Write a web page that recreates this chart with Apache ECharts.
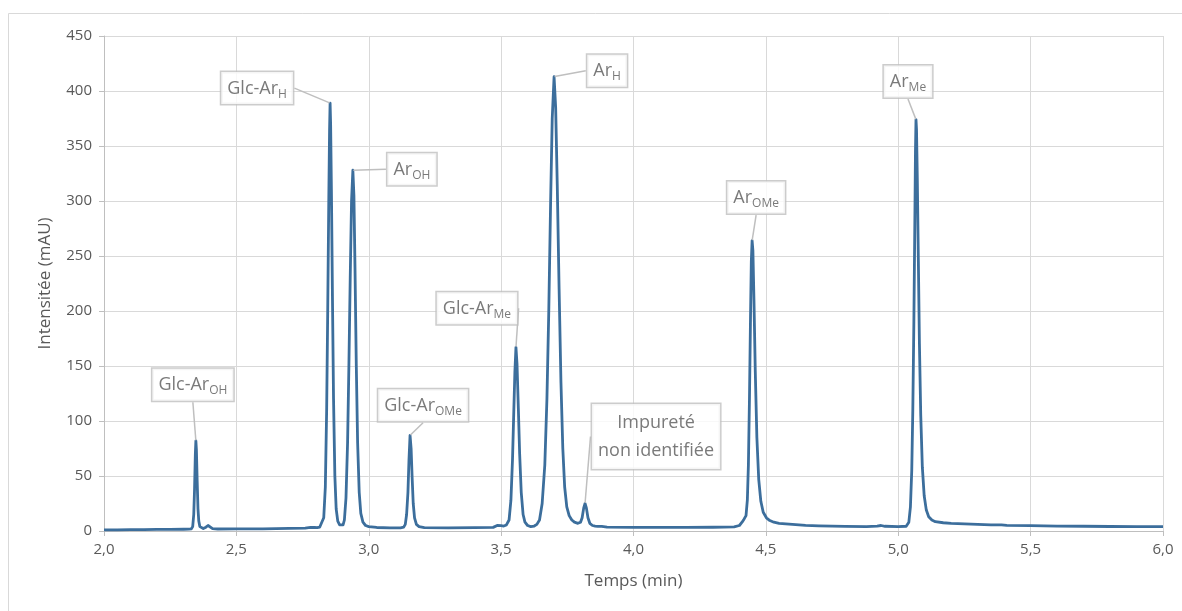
<!DOCTYPE html>
<html>
<head>
<meta charset="utf-8">
<script src="https://cdn.jsdelivr.net/npm/echarts@6/dist/echarts.min.js"></script>
<style>
html,body{margin:0;padding:0;background:#fff;}
#chart{width:1182px;height:611px;}
</style>
</head>
<body>
<div id="chart"></div>
<script>
// Chromatogram trace (time in min, intensity in mAU)
const times = [
 2.00,2.05,2.10,2.15,2.20,2.25,2.30,2.32,2.330,
 2.335,2.339,2.342,2.345,2.347,2.349,2.352,2.355,2.358,2.362,2.367,2.375,2.385,2.393,2.400,2.41,2.43,2.5,2.6,2.7,2.76,2.78,2.787,2.795,2.805,2.815,
 2.822,2.830,2.836,2.841,2.845,2.849,2.852,2.854,2.856,2.859,2.863,2.867,2.872,2.877,2.883,2.890,2.897,2.903,
 2.908,2.914,2.920,2.925,2.930,2.935,2.940,2.944,2.948,2.953,2.958,2.964,2.970,2.978,2.988,3.00,3.03,3.08,3.12,3.132,
 3.138,3.143,3.148,3.152,3.156,3.160,3.164,3.168,3.173,3.180,3.19,3.21,3.3,3.4,3.47,3.485,3.492,3.50,3.51,3.52,
 3.530,3.537,3.543,3.548,3.552,3.556,3.560,3.565,3.570,3.576,3.583,3.590,3.600,3.612,3.625,3.635,
 3.645,3.655,3.665,3.673,3.680,3.687,3.693,3.700,3.706,3.712,3.719,3.726,3.733,3.740,3.748,3.757,3.767,3.777,3.790,3.800,
 3.806,3.812,3.817,3.822,3.828,3.835,3.845,3.855,3.865,3.872,3.880,3.9,4.0,4.1,4.2,4.3,4.38,4.40,4.41,4.418,4.425,
 4.430,4.434,4.438,4.442,4.445,4.448,4.451,4.455,4.460,4.466,4.473,4.481,4.490,4.502,4.515,4.53,4.55,4.6,4.65,4.7,4.8,4.88,4.92,4.935,4.95,5.0,5.03,
 5.040,5.046,5.051,5.055,5.059,5.063,5.065,5.067,5.069,5.072,5.076,5.080,5.085,5.091,5.098,5.106,5.115,5.127,5.14,5.17,5.2,5.25,5.3,5.35,5.39,5.395,5.41,5.5,5.6,5.7,5.8,5.9,6.0
];
const intensities = [
 1.0,1.0,1.2,1.2,1.4,1.5,1.6,1.7,2.0,
 4,15,38,70,82,74,45,20,9,4,2.5,2.2,3.5,5.0,3.5,2.2,1.8,1.9,2.0,2.3,2.6,3.2,4.0,3.3,3.0,3.6,
 4,12,40,110,200,300,365,389,370,310,210,120,50,20,9,5.5,4.5,5.5,
 10,30,80,150,230,300,328,305,240,150,80,35,16,8,5,4,3.2,2.8,2.8,3.5,
 6,15,35,65,87,75,48,25,12,6,4,3,2.8,3.0,3.3,5.0,6.0,4.8,4.5,5.5,
 10,28,65,110,145,167,152,112,70,35,15,8,5,4,4.5,6,
 10,25,60,120,200,300,375,413,385,315,220,135,75,40,22,14,10,8,7,8,
 12,21,25,21,12,7,5,4.5,4.2,5,4.2,3.5,3.3,3.3,3.3,3.4,3.7,5,8,11,14,
 28,60,120,195,245,264,255,210,145,85,47,27,17,12,9.5,8,7,6,5.2,4.7,4.2,4.0,4.5,5.0,4.3,4.0,4.3,
 8,22,55,110,190,290,345,374,365,320,245,170,105,58,32,19,13,10,8.5,7.5,7,6.5,6,5.5,5.5,6,5.2,4.8,4.5,4.3,4.1,4.0,4.0
];

// Annotated peaks
const peakTimes   = [2.347, 2.854, 2.940, 3.156, 3.556, 3.700, 3.817, 4.448, 5.067];
const peakHeights = [82, 389, 328, 87, 167, 413, 25, 264, 374];
const peakNames   = ['Glc-Ar', 'Glc-Ar', 'Ar', 'Glc-Ar', 'Glc-Ar', 'Ar', 'Impureté\nnon identifiée', 'Ar', 'Ar'];
const peakSubs    = ['OH', 'H', 'OH', 'OMe', 'Me', 'H', '', 'OMe', 'Me'];

// Axis ticks
const xMin = 2.0, xMax = 6.0, xStep = 0.5;
const yMin = 0, yMax = 450, yStep = 50;

// Callout box offsets (px from peak to box centre) - layout only
const calloutOffsets = [[-3,-56],[-73,-15],[59,-1],[13,-30],[-39,-39],[53,-6],[71,-67],[4,-43],[-8,-38]];

const traceData = times.map((t, i) => [t, intensities[i]]);
const peakData = peakTimes.map((t, i) => ({
  value: [t, peakHeights[i]],
  name: peakNames[i],
  sub: peakSubs[i]
}));

const textColor = '#595959';
const fontFam = '"Open Sans", "Noto Sans", sans-serif';

const chart = echarts.init(document.getElementById('chart'), null, {renderer: 'canvas'});
chart.setOption({
  animation: false,
  backgroundColor: '#fff',
  graphic: [{
    type: 'rect', silent: true, z: -10,
    shape: {x: 8.5, y: 13.5, width: 1200, height: 640},
    style: {fill: 'none', stroke: '#d9d9d9', lineWidth: 1}
  }],
  grid: {left: 104, right: 19, top: 36, bottom: 80, containLabel: false},
  xAxis: {
    type: 'value', min: xMin, max: xMax, interval: xStep,
    name: 'Temps (min)', nameLocation: 'middle', nameGap: 42,
    nameTextStyle: {color: textColor, fontSize: 17, fontFamily: fontFam},
    axisLine: {show: true, lineStyle: {color: '#bfbfbf', width: 1}},
    axisTick: {show: true, inside: false, length: 5, lineStyle: {color: '#bfbfbf'}},
    axisLabel: {color: textColor, fontSize: 15, fontFamily: fontFam, margin: 11,
      formatter: v => v.toFixed(1).replace('.', ',')},
    splitLine: {show: true, lineStyle: {color: '#d9d9d9', width: 1}}
  },
  yAxis: {
    type: 'value', min: yMin, max: yMax, interval: yStep,
    name: 'Intensitée (mAU)', nameLocation: 'middle', nameGap: 50,
    nameTextStyle: {color: textColor, fontSize: 17, fontFamily: fontFam},
    axisLine: {show: true, lineStyle: {color: '#bfbfbf', width: 1}},
    axisTick: {show: true, inside: false, length: 5, lineStyle: {color: '#bfbfbf'}},
    axisLabel: {color: textColor, fontSize: 15, fontFamily: fontFam, margin: 12},
    splitLine: {show: true, lineStyle: {color: '#d9d9d9', width: 1}}
  },
  series: [
    {
      type: 'line', data: traceData, showSymbol: false, symbol: 'none',
      lineStyle: {color: '#3c6e9c', width: 2.8, join: 'round'},
      z: 3
    },
    {
      type: 'scatter', data: peakData, symbolSize: 1,
      itemStyle: {color: 'rgba(0,0,0,0)'},
      z: 10,
      label: {
        show: true, position: 'inside',
        backgroundColor: '#ffffff', borderColor: '#bfbfbf', borderWidth: 1.5,
        padding: [5, 6, 4, 6],
        formatter: p => {
          if (!p.data.sub) {
            return p.data.name.split('\n').map(s => '{m|' + s + '}').join('\n');
          }
          return '{a|' + p.data.name + '}{s|' + p.data.sub + '}';
        },
        rich: {
          a: {fontSize: 18, color: textColor, fontFamily: fontFam, lineHeight: 23},
          s: {fontSize: 12, color: textColor, fontFamily: fontFam, lineHeight: 10, verticalAlign: 'bottom'},
          m: {fontSize: 18, color: textColor, fontFamily: fontFam, lineHeight: 28, align: 'center'}
        }
      },
      labelLayout: p => {
        const o = calloutOffsets[p.dataIndex];
        return {dx: o[0], dy: o[1]};
      },
      labelLine: {show: true, lineStyle: {color: '#bfbfbf', width: 1.5}}
    }
  ]
});
</script>
</body>
</html>
